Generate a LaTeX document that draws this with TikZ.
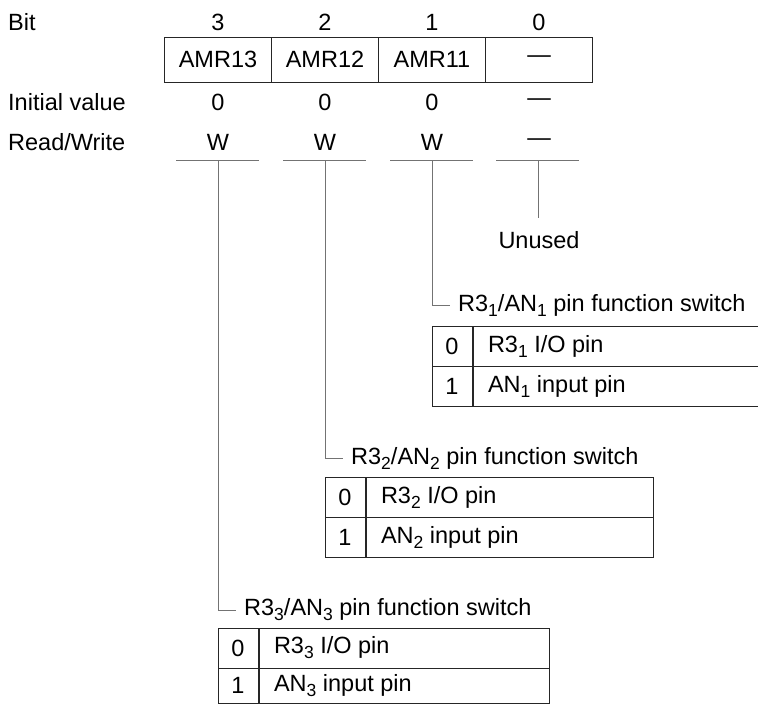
\documentclass[tikz,border=0pt]{standalone}
\usepackage{fontspec}
\setmainfont{Liberation Sans}
\usetikzlibrary{positioning}
\newcommand{\pinsub}[1]{\raisebox{-5pt}{\fontsize{17.5}{18}\selectfont #1}}

\begin{document}
\begin{tikzpicture}[
  x=1pt, y=-1pt,
  font=\fontsize{23.5}{28}\selectfont,
  every node/.style={inner sep=0pt},
  reg/.style={rectangle, draw=black!85, line width=1pt, minimum width=107pt, minimum height=45pt},
  num/.style={rectangle, draw=black!85, line width=1pt, minimum width=40pt, minimum height=40pt},
  desc/.style={rectangle, draw=black!85, line width=1pt, minimum height=40pt, align=flush left, inner xsep=15pt},
  lead/.style={draw=black!55, line width=1pt},
  sw/.style={anchor=west, inner xsep=8pt}
]
  \useasboundingbox (0,0) rectangle (758,704);

  \node[anchor=west] (bitlbl) at (8,22)  {Bit};
  \node[anchor=west] (inilbl) at (8,102) {Initial value};
  \node[anchor=west] (rwlbl)  at (8,142) {Read/Write};

  \node (bit3) at (218,22) {3};
  \node (bit2) at (325,22) {2};
  \node (bit1) at (432,22) {1};
  \node (bit0) at (539,22) {0};

  \node[reg] (reg3) at (218,59.5) {AMR13};
  \node[reg] (reg2) at (325,59.5) {AMR12};
  \node[reg] (reg1) at (432,59.5) {AMR11};
  \node[reg] (reg0) at (539,59.5) {\textemdash};

  \node (ini3) at (218,102) {0};
  \node (ini2) at (325,102) {0};
  \node (ini1) at (432,102) {0};
  \node (ini0) at (539,102) {\textemdash};

  \node (rw3) at (218,142) {W};
  \node (rw2) at (325,142) {W};
  \node (rw1) at (432,142) {W};
  \node (rw0) at (539,142) {\textemdash};

  \coordinate (t3) at (218,160);
  \coordinate (t2) at (325,160);
  \coordinate (t1) at (432,160);
  \coordinate (t0) at (538,160);
  \draw[lead] ([xshift=-42pt]t3) -- ([xshift=41pt]t3);
  \draw[lead] ([xshift=-42pt]t2) -- ([xshift=41pt]t2);
  \draw[lead] ([xshift=-42pt]t1) -- ([xshift=41pt]t1);
  \draw[lead] ([xshift=-42pt]t0) -- ([xshift=41pt]t0);

  \coordinate (u0) at (538,218);
  \node (unused) at (539,240) {Unused};
  \draw[lead] (t0) -- (u0);

  \node[sw] (sw1) at (450,305) {R3\pinsub{1}/AN\pinsub{1} pin function switch};
  \node[num] (k1a) at (452,346) {0};
  \node[num] (k1b) at (452,386) {1};
  \node[desc, text width=255pt, right=0pt of k1a] (d1a) {R3\pinsub{1} I/O pin};
  \node[desc, text width=255pt, right=0pt of k1b] (d1b) {AN\pinsub{1} input pin};
  \draw[lead] (t1) |- (sw1.west);

  \node[sw] (sw2) at (343,458) {R3\pinsub{2}/AN\pinsub{2} pin function switch};
  \node[num] (k2a) at (345,497) {0};
  \node[num] (k2b) at (345,537) {1};
  \node[desc, text width=257pt, right=0pt of k2a] (d2a) {R3\pinsub{2} I/O pin};
  \node[desc, text width=257pt, right=0pt of k2b] (d2b) {AN\pinsub{2} input pin};
  \draw[lead] (t2) |- (sw2.west);

  \node[sw] (sw3) at (236,610) {R3\pinsub{3}/AN\pinsub{3} pin function switch};
  \node[num] (k3a) at (238,648) {0};
  \node[num, minimum height=35pt] (k3b) at (238,685.5) {1};
  \node[desc, text width=260pt, right=0pt of k3a] (d3a) {R3\pinsub{3} I/O pin};
  \node[desc, text width=260pt, minimum height=35pt, right=0pt of k3b] (d3b) {AN\pinsub{3} input pin};
  \draw[lead] (t3) |- (sw3.west);
\end{tikzpicture}
\end{document}
